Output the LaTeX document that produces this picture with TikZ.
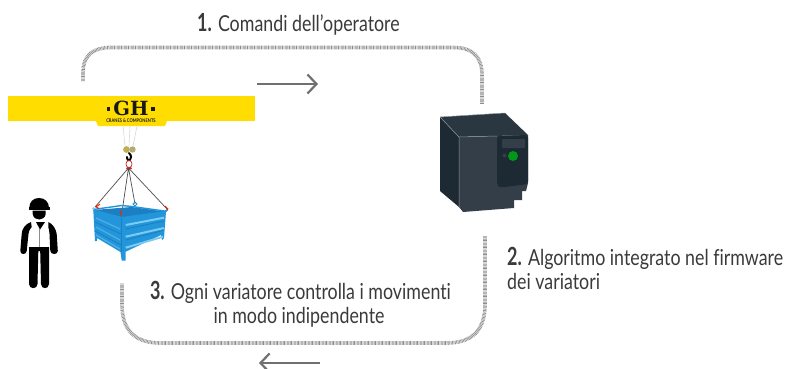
\documentclass[tikz,border=0pt]{standalone}
\usepackage{fontspec}
\setmainfont{Lato}[FakeStretch=0.81,Ligatures=NoCommon]
\newfontfamily\logofont{DejaVu Serif}
\usetikzlibrary{arrows.meta}
\definecolor{txt}{HTML}{3A3A3A}
\definecolor{hatch}{HTML}{8E8E8E}
\definecolor{arr}{HTML}{707070}
\definecolor{gold}{HTML}{FFDD00}
\definecolor{bl}{HTML}{2295DB}
\definecolor{bld}{HTML}{1B7FC2}
\definecolor{bll}{HTML}{7CCBF0}
\definecolor{drA}{HTML}{333E49}
\definecolor{drB}{HTML}{1E2A33}
\definecolor{drC}{HTML}{2A3640}
\tikzset{
  x=1pt,y=-1pt,
  loopline/.style={draw=hatch,line width=3.6pt,dash pattern=on 0.7pt off 0.7pt},
  flowarrow/.style={draw=arr,line width=2.2pt,-{Straight Barb[length=9pt,width=19pt,line width=2.2pt]}},
  caption/.style={text=txt,font=\fontsize{22}{25}\selectfont,inner sep=0pt},
  sling/.style={draw=black!70,line width=0.7pt},
}
\newcommand{\stepno}[1]{{\fontsize{25}{25}\selectfont\bfseries\addfontfeature{FakeStretch=0.72}#1}}
\begin{document}
\begin{tikzpicture}
\useasboundingbox (0,0) rectangle (789,369);
% captions
\node[caption,anchor=base west] (capone) at (197,32) {\stepno{1.} Comandi dell’operatore};
\node[caption,anchor=base west] (captwoa) at (507,265) {\stepno{2.} Algoritmo integrato nel firmware};
\node[caption,anchor=base west] (captwob) at (507,289) {dei variatori};
\node[caption,anchor=base] (capthreea) at (300.5,299) {\stepno{3.} Ogni variatore controlla i movimenti};
\node[caption,anchor=base] (capthreeb) at (299,323) {in modo indipendente};
% loop lines
\coordinate (topa) at (83,81);
\coordinate (topb) at (482,104);
\coordinate (bota) at (485,236);
\coordinate (botb) at (122,283);
\path[loopline] (topa) -- (83,72) .. controls (83,55) and (94,47.5) .. (110,47.5) -- (455,47.5) .. controls (472,47.5) and (482,57) .. (482,74) -- (topb);
\path[loopline] (bota) -- (485,305) .. controls (485,330) and (472,343) .. (447,343) -- (160,343) .. controls (135,343) and (122,330) .. (122,305) -- (botb);
% flow arrows
\coordinate (arra) at (257,84);
\coordinate (arrb) at (318,84);
\coordinate (arrc) at (320,363);
\coordinate (arrd) at (259,363);
\draw[flowarrow] (arra) -- (arrb);
\draw[flowarrow] (arrc) -- (arrd);
% yellow beam
\fill[gold] (8,96) rectangle (255,121);
\fill[gold] (96,121) -- (98,126) -- (165,126) -- (167,121) -- cycle;
\node[inner sep=0pt,text=black!90] (ghlogo) at (131,108.5) {\logofont\fontsize{19.5}{20}\selectfont\bfseries GH};
\fill[black!90] (107,107) rectangle (110,110.5);
\fill[black!90] (151,107) rectangle (155,110.5);
\node[inner sep=0pt,text=black!90] (ghsub) at (131,121) {\fontsize{5}{5}\selectfont\bfseries CRANES \& COMPONENTS};
% hoist
\draw[black!15,line width=0.6pt] (123,126) -- (125,146) (130,126) -- (129,146) (137,126) -- (133,146);
\fill[olive!60!brown!70] (126.5,149.5) circle (3.4);
\fill[olive!50!gray!70] (132.5,149.5) circle (3.2);
\draw[black,line width=2pt,line cap=round] (129,153) .. controls (132,156) and (131,158) .. (130,160) (127,157) .. controls (127,160) and (129,161) .. (130,160);
\draw[red!65!gray,line width=0.7pt] (129,164) ellipse (3 and 3.6);
\fill[red!65!gray] (127,167) -- (131,167) -- (132,169) -- (126,169) -- cycle;
% slings
\coordinate (apex) at (128.5,168);
\coordinate (slingl) at (95,207);
\coordinate (slingr) at (167,209);
\coordinate (slingf) at (122,212);
\coordinate (slingb) at (135,204);
\draw[sling] (apex) -- (slingl) (apex) -- (slingr) (apex) -- (slingf) (apex) -- (slingb);
% basket
\fill[bld] (93.3,210) -- (131.7,207) -- (166,211.7) -- (121.7,217.7) -- cycle;
\fill[bl] (93.3,210) -- (121.7,217.7) -- (125.7,217.7) -- (125.7,260.7) -- (121.7,260.7) -- (120.5,252) -- (97,238) -- (97,241) -- (95,241) -- cycle;
\fill[bl] (121.7,217.7) -- (166,211.7) -- (164,238) -- (162,240) -- (161,235) -- (125.7,251.7) -- (121.7,252) -- cycle;
\draw[bl,line width=1.4pt,line join=round] (93.3,209.5) -- (121.7,205.5) -- (131.7,206.5) -- (166,211.2);
\draw[bl,line width=1.4pt] (93.3,210) -- (121.7,217.7) -- (166,211.7);
\draw[bll,line width=2pt] (125.7,225) -- (164,217.7) (125.7,236.7) -- (164,228) (125.7,247.7) -- (163,236.7);
\draw[bll!50!bl,line width=1.2pt] (96,218) -- (120,229) (96,227) -- (120,240) (96,235) -- (120,249);
\draw[bld,line width=0.8pt] (95,222) -- (121,234) (95,231) -- (121,245) (125.7,229) -- (164,221) (125.7,240) -- (163,230.5);
\draw[bld,line width=0.5pt] (121.7,218) -- (121.7,252);
\draw[red!75!orange,line width=1pt] (100,204) -- (96,207) -- (99,208.5) (165,206) -- (168,209) -- (166,211) (122,210) -- (120.5,213) -- (121,216);
\draw[bl,line width=0.9pt] (135,204) circle (1.9);
\fill[bll] (93.5,208.5) circle (1.5);
\fill[bl] (166.5,210.5) circle (1.3);
% worker
\fill[black] (29.3,208) .. controls (29.3,202) and (33,198) .. (39,198) .. controls (45,198) and (49,202) .. (49,208) -- cycle;
\fill[black] (29,207) rectangle (49.5,209.5);
\fill[black] (32.7,210.5) -- (45.7,210.5) -- (45.7,214) .. controls (45,218) and (42,219.5) .. (39.2,219.5) .. controls (36,219.5) and (33.4,218) .. (32.7,214) -- cycle;
\fill[black] (31,222) .. controls (25,224) and (22,229) .. (21.7,234) -- (20.3,251) .. controls (20.3,255) and (26.5,255) .. (26.7,251) -- (28.5,234) .. controls (28.8,230) and (31,228) .. (31.7,227) -- cycle;
\fill[black] (48.3,222) .. controls (53,224) and (56,229) .. (56.7,234) -- (57.8,251) .. controls (57.8,255) and (50.8,255) .. (50.3,251) -- (49.5,234) .. controls (49.2,230) and (48.5,228) .. (48.3,227) -- cycle;
\fill[black] (29,247) -- (49,247) -- (49,284) .. controls (49,289.5) and (41,289.5) .. (41,284) -- (40.2,251) -- (38.3,251) -- (37.5,284) .. controls (37.5,289.5) and (29,289.5) .. (29,284) -- cycle;
\fill[black] (36,222) -- (45,222) -- (40,229.5) -- cycle;
\draw[black!45,line width=0.8pt] (39.8,229) -- (39.8,247);
% inverter
\fill[drB] (440,117) -- (459,137) -- (459,207) -- (440,191) -- cycle;
\fill[drC] (440,117) -- (505,113) -- (528,135) -- (459,137) -- cycle;
\fill[drA] (459,137) -- (528,135) -- (528,183) -- (526,191) -- (522,191) -- (522,200) -- (514,200) -- (514,208) -- (463,212) -- (459,207) -- cycle;
\draw[white!45!drA,line width=0.5pt] (440,117) -- (459,137) -- (459,207) (459,137) -- (497,136) (440,117) -- (505,113);
\fill[drB,rounded corners=3pt] (497,136) -- (528,135) -- (528,184) -- (500,187.5) -- (497,185) -- cycle;
\fill[drA,rounded corners=1pt] (502,139) rectangle (525,148);
\fill[drA] (504.5,155.5) circle (2);
\fill[green!55!black!90!cyan] (513,156) circle (5);
\end{tikzpicture}
\end{document}
